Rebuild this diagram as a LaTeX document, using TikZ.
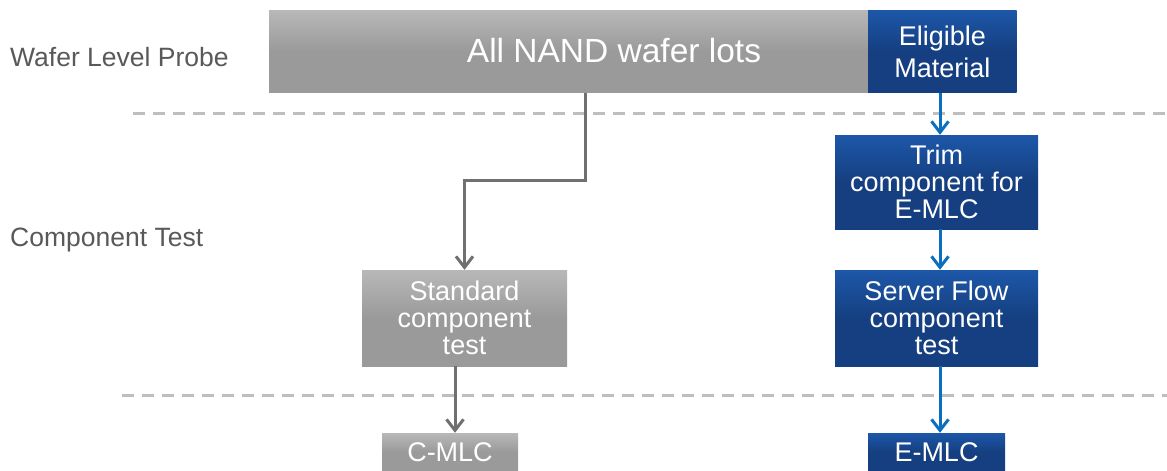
\documentclass[tikz,border=0pt]{standalone}
\usepackage{fontspec}
\setmainfont{Liberation Sans}
\usetikzlibrary{arrows.meta,calc}
\definecolor{gtop}{HTML}{B8B8B8}
\definecolor{gbot}{HTML}{9A9A9A}
\definecolor{btop}{HTML}{1D57A9}
\definecolor{bbot}{HTML}{153F80}
\definecolor{garrow}{HTML}{707070}
\definecolor{barrow}{HTML}{0A6FBF}
\definecolor{dashc}{HTML}{BEBEBE}
\definecolor{lblc}{HTML}{595959}
\begin{document}
\begin{tikzpicture}[x=1pt,y=-1pt,
  graybox/.style={rectangle,inner sep=0pt,top color=gtop,bottom color=gbot,middle color=gbot,
    text=white,align=center,font=\fontsize{27}{27}\selectfont},
  bluebox/.style={rectangle,inner sep=0pt,top color=btop,bottom color=bbot,middle color=bbot,
    text=white,align=center,font=\fontsize{27}{27}\selectfont},
  garr/.style={draw=garrow,line width=3pt,-{Straight Barb[length=11pt,width=17pt,line width=3pt]}},
  barr/.style={draw=barrow,line width=3pt,-{Straight Barb[length=11pt,width=17pt,line width=3pt]}},
  dashline/.style={draw=dashc,line width=3pt,dash pattern=on 12pt off 8pt},
  sidelbl/.style={text=lblc,anchor=west,inner sep=0pt,font=\fontsize{26.5}{27}\selectfont}]
\useasboundingbox (0,0) rectangle (1167,471);
\fill[white] (0,0) rectangle (1167,471);

% dashed separators
\draw[dashline] (133,113) -- (1167,113);
\draw[dashline] (122,395) -- (1167,395);

% side labels
\node[sidelbl] (wlp) at (10,57) {Wafer Level Probe};
\node[sidelbl] (ct) at (10,240) {Component Test};

% boxes
\node[graybox,minimum width=599pt,minimum height=82.7pt] (all) at (568.5,51.35) {};
\node[text=white,inner sep=0pt,font=\fontsize{33.5}{34}\selectfont] (alltxt) at (614,51) {All NAND wafer lots};
\node[bluebox,minimum width=148.7pt,minimum height=82.7pt,font=\fontsize{27}{32}\selectfont] (elig) at (942.35,51.35) {Eligible\\Material};
\node[bluebox,minimum width=203pt,minimum height=94pt] (trim) at (936.5,182) {Trim\\component for\\E-MLC};
\node[bluebox,minimum width=203pt,minimum height=96pt] (server) at (936.5,318) {Server Flow\\component\\test};
\node[graybox,minimum width=205pt,minimum height=96pt] (std) at (464.5,318) {Standard\\component\\test};
\node[graybox,minimum width=136pt,minimum height=38pt] (cmlc) at (450,452) {C-MLC};
\node[bluebox,minimum width=137pt,minimum height=38pt] (emlc) at (936.5,452) {E-MLC};

% connectors
\coordinate (gx) at (585,0);
\coordinate (bx) at (940,0);
\coordinate (sx) at (455,0);
\draw[garr] (all.south -| gx) -- ++(0,88) -| (std.north);
\draw[garr] (std.south -| sx) -- (cmlc.north -| sx);
\draw[barr] (elig.south -| bx) -- (trim.north -| bx);
\draw[barr] (trim.south -| bx) -- (server.north -| bx);
\draw[barr] (server.south -| bx) -- (emlc.north -| bx);
\end{tikzpicture}
\end{document}
